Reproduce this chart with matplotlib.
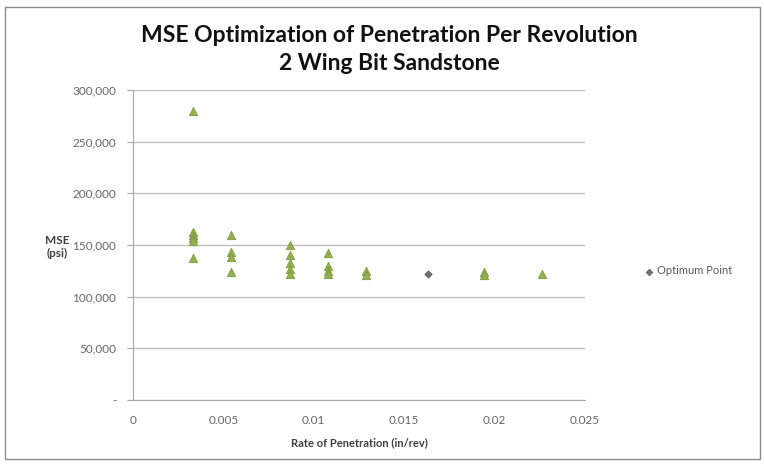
import matplotlib
matplotlib.use("Agg")
import matplotlib.pyplot as plt
from matplotlib.patches import Rectangle

plt.rcParams['font.family'] = ['Lato', 'DejaVu Sans']

# Test runs: penetration per revolution (in/rev) and MSE (psi)
rop_tests = [0.0033, 0.0033, 0.0033, 0.0033, 0.0033, 0.0033,
             0.0054, 0.0054, 0.0054, 0.0054,
             0.0087, 0.0087, 0.0087, 0.0087, 0.0087,
             0.0108, 0.0108, 0.0108, 0.0108,
             0.0129, 0.0129,
             0.0194, 0.0194,
             0.0226]
mse_tests = [280000, 163000, 160000, 157000, 154000, 137000,
             160000, 143000, 138000, 124000,
             150000, 140000, 133000, 127000, 122000,
             142000, 130000, 125000, 122000,
             125000, 121000,
             124000, 121000,
             122000]

# Optimum point
rop_opt = [0.0163]
mse_opt = [122000]

x_ticks = [0, 0.005, 0.01, 0.015, 0.02, 0.025]
x_tick_labels = ['0', '0.005', '0.01', '0.015', '0.02', '0.025']
y_ticks = [0, 50000, 100000, 150000, 200000, 250000, 300000]
y_tick_labels = ['-', '50,000', '100,000', '150,000', '200,000', '250,000', '300,000']

W, H = 764, 466
fig = plt.figure(figsize=(W / 100, H / 100), dpi=100)
fig.patch.set_facecolor('white')

# outer chart frame
fig.patches.append(Rectangle((5 / W, 1 - 459 / H), 755 / W, 452 / H,
                             transform=fig.transFigure, fill=False,
                             edgecolor='#8c8c8c', linewidth=1.0))

ax = fig.add_axes([133 / W, 1 - 400 / H, (585 - 133) / W, (400 - 90) / H])

ax.scatter(rop_tests, mse_tests, marker='^', s=36, color='#93b052',
           edgecolors='#7f9a3e', linewidths=0.6, zorder=3)
ax.scatter(rop_opt, mse_opt, marker='D', s=14, color='#6f6f6f',
           edgecolors='#555555', linewidths=0.5, zorder=4,
           label='Optimum Point')

ax.set_xlim(0, 0.025)
ax.set_ylim(0, 300000)
ax.set_xticks(x_ticks)
ax.set_xticklabels(x_tick_labels)
ax.set_yticks(y_ticks)
ax.set_yticklabels(y_tick_labels)

ax.yaxis.grid(True, color='#bfbfbf', linewidth=1.0)
ax.set_axisbelow(True)
for s in ['top', 'right']:
    ax.spines[s].set_visible(False)
for s in ['left', 'bottom']:
    ax.spines[s].set_color('#a6a6a6')
ax.tick_params(axis='x', length=0, pad=11, labelsize=8.5, labelcolor='#666666')
ax.tick_params(axis='y', length=4, direction='out', color='#a6a6a6',
               pad=8, labelsize=8.5, labelcolor='#666666')

ax.set_xlabel('Rate of Penetration (in/rev)', fontsize=8, fontweight='bold',
              color='#404040', labelpad=8)
fig.text(57 / W, 1 - 247 / H, 'MSE\n(psi)', ha='center', va='center',
         fontsize=8.5, fontweight='bold', color='#404040', linespacing=1.3)

fig.text(389 / W, 1 - 36 / H, 'MSE Optimization of Penetration Per Revolution',
         ha='center', va='center', fontsize=16.5, fontweight='bold', color='#111111')
fig.text(389 / W, 1 - 63 / H, '2 Wing Bit Sandstone',
         ha='center', va='center', fontsize=16.5, fontweight='bold', color='#111111')

leg = fig.legend(loc='center left', bbox_to_anchor=(636 / W, 1 - 271 / H),
                 frameon=False, fontsize=8, handlelength=0.6, handletextpad=0.4,
                 markerscale=0.9)
for t in leg.get_texts():
    t.set_color('#595959')

fig.savefig('out.png', dpi=100, facecolor='white')
